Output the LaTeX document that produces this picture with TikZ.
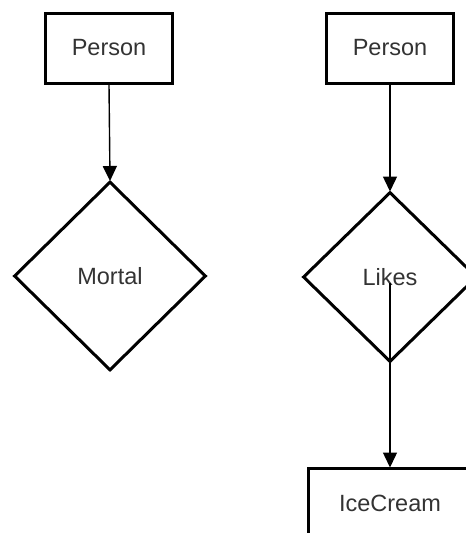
\documentclass[tikz,border=0pt]{standalone}
\usepackage{fontspec}
\setmainfont{Liberation Sans}
\usetikzlibrary{shapes.geometric,arrows.meta}
\definecolor{labelgray}{HTML}{333333}
\tikzset{
  x=1pt, y=-1pt,
  entity/.style={draw=black, line width=3pt, fill=white, rectangle,
    minimum width=127pt, minimum height=70pt, inner sep=0pt,
    font=\fontsize{23.5}{26}\selectfont, text=labelgray},
  relation/.style={draw=black, line width=3pt, fill=white, diamond,
    inner sep=0pt, font=\fontsize{23.5}{26}\selectfont, text=labelgray},
  link/.style={draw=black, line width=1.4pt,
    -{Triangle[length=15pt,width=14pt]}, shorten >=-1pt},
}
\begin{document}
\begin{tikzpicture}
  \useasboundingbox (0,0) rectangle (466,533);
  \clip (0,0) rectangle (466,533);
  \fill[white] (0,0) rectangle (466,533);

  % left chain: Person -> Mortal
  \node[entity] (p1) at (109,48) {Person};
  \node[relation, minimum width=192pt, minimum height=189pt] (mortal) at (110,276) {Mortal};
  \draw[link] (p1.south) -- (mortal.north);

  % right chain: Person -> Likes -> IceCream
  \node[entity] (p2) at (390,48) {Person};
  \node[relation, minimum width=174pt, minimum height=170pt] (likes) at (390,277) {Likes};
  \node[entity, minimum width=164pt] (ice) at (390,503) {IceCream};
  \draw[link] (p2.south) -- (likes.north);
  \coordinate (likesfoot) at (390,283);
  \draw[link] (likesfoot) -- (ice.north);
\end{tikzpicture}
\end{document}
